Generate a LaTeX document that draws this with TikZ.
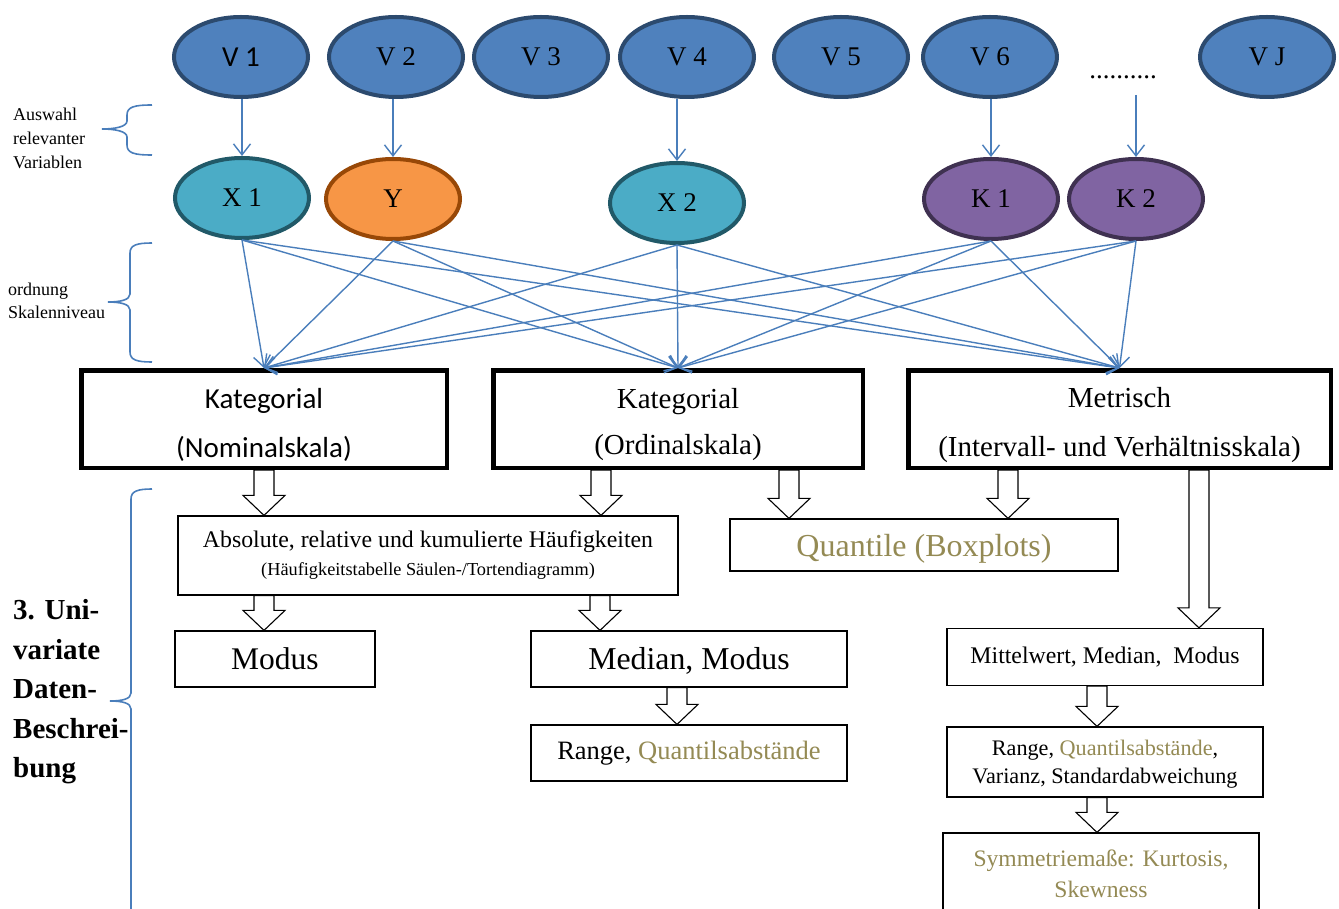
\documentclass[tikz,border=0pt]{standalone}
\usepackage{fontspec}
\setmainfont{Liberation Serif}
\newfontfamily\calfont{Carlito}
\usetikzlibrary{arrows.meta,shapes.geometric,calc}
\pgfdeclarelayer{bg}
\pgfsetlayers{bg,main}
\definecolor{vfill}{HTML}{4F81BD}
\definecolor{vline}{HTML}{2C4A6E}
\definecolor{xfill}{HTML}{4BACC6}
\definecolor{xline}{HTML}{215968}
\definecolor{yfill}{HTML}{F79646}
\definecolor{yline}{HTML}{984807}
\definecolor{kfill}{HTML}{8064A2}
\definecolor{kline}{HTML}{3F3151}
\definecolor{conncol}{HTML}{4A7EBB}
\definecolor{olivetxt}{HTML}{948A54}
\tikzset{
  ell/.style={ellipse, line width=4pt, minimum width=134pt, minimum height=80pt, inner sep=0pt, font=\fontsize{27}{32}\selectfont},
  vell/.style={ell, draw=vline, fill=vfill},
  xell/.style={ell, draw=xline, fill=xfill},
  yell/.style={ell, draw=yline, fill=yfill},
  kell/.style={ell, draw=kline, fill=kfill},
  mainbox/.style={draw=black, fill=white, line width=4.5pt, align=center, inner sep=0pt},
  thinbox/.style={draw=black, fill=white, line width=1.2pt, align=center, inner sep=0pt},
  conn/.style={draw=conncol, line width=1.4pt, -{Straight Barb[length=11pt,width=17pt]}},
  brace/.style={draw=conncol, line width=1.6pt},
  barr/.style={draw=black, fill=white, line width=1.1pt, line join=miter},
  lbl/.style={align=left, inner sep=0pt, anchor=west}
}
\newcommand{\blockarr}[3]{%
  \path (#1,0 |- #2.south) coordinate (bt) (#1,0 |- #3.north) coordinate (bb);
  \filldraw[barr] let \p1=(bt), \p2=(bb) in
    ({\x1-10pt},\y1) -- ({\x1-10pt},{\y2+20pt}) -- ({\x1-21pt},{\y2+20pt}) -- (\x1,\y2)
    -- ({\x1+21pt},{\y2+20pt}) -- ({\x1+10pt},{\y2+20pt}) -- ({\x1+10pt},\y1) -- cycle;}
\newcommand{\mybrace}[6]{%
  \draw[brace] (#1,#4) .. controls ({#2+7},#4) and (#2,{#4+2}) .. (#2,{#4+10})
    -- (#2,{#5-8}) .. controls (#2,{#5-2}) and ({#3+12},#5) .. (#3,#5)
    .. controls ({#3+12},#5) and (#2,{#5+2}) .. (#2,{#5+8})
    -- (#2,{#6-10}) .. controls (#2,{#6-2}) and ({#2+7},#6) .. (#1,#6);}
\newcommand{\topstrut}{\rule{0pt}{32pt}}
\newcommand{\lowertxt}[2]{\raisebox{-#1}[\height][\depth]{#2}}
\begin{document}
\begin{tikzpicture}[x=1pt,y=-1pt]
\useasboundingbox (0,0) rectangle (1339,909);
\clip (0,0) rectangle (1339,909);
% top row
\node[vell, font=\calfont\fontsize{29}{34}\selectfont] (V1) at (241,57) {V 1};
\node[vell] (V2) at (396,57) {V 2};
\node[vell] (V3) at (541,57) {V 3};
\node[vell] (V4) at (687,57) {V 4};
\node[vell] (V5) at (841,57) {V 5};
\node[vell] (V6) at (990,57) {V 6};
\node[vell] (VJ) at (1267,57) {V J};
\node[inner sep=0pt, font=\fontsize{27}{32}\selectfont] (dots) at (1123,77) {..........};
\coordinate (dotsend) at ($(1136,0 |- dots.south)+(0,16)$);
% second row
\node[xell] (X1) at (242,198) {X 1};
\node[yell] (Y) at (393,199) {Y};
\node[xell] (X2) at (677,203) {X 2};
\node[kell] (K1) at (991,199) {K 1};
\node[kell] (K2) at (1136,199) {K 2};
% main boxes
\node[mainbox, minimum width=365.5pt, minimum height=97.5pt, font=\calfont\fontsize{29}{49}\selectfont] (A) at (264,419) {\topstrut Kategorial\\(Nominalskala)};
\node[mainbox, minimum width=369.5pt, minimum height=97.5pt, font=\fontsize{29}{46}\selectfont] (B) at (678,419) {\topstrut Kategorial\\(Ordinalskala)};
\node[mainbox, minimum width=422.5pt, minimum height=97.5pt, font=\fontsize{29}{49}\selectfont] (C) at (1119.5,419) {\topstrut Metrisch\\(Intervall- und Verhältnisskala)};
% lower boxes
\node[thinbox, minimum width=500pt, minimum height=79pt, font=\fontsize{23.8}{28}\selectfont] (Abs) at (428,555.5)
  {Absolute, relative und kumulierte Häufigkeiten\\{\fontsize{18.3}{20}\selectfont (Häufigkeitstabelle Säulen-/Tortendiagramm)}};
\node[thinbox, minimum width=388pt, minimum height=52pt, font=\fontsize{32}{36}\selectfont, text=olivetxt] (Quan) at (924,545) {\lowertxt{4pt}{Quantile (Boxplots)}};
\node[thinbox, minimum width=200pt, minimum height=56pt, font=\fontsize{31.5}{36}\selectfont] (Mod) at (275,659) {Modus};
\node[thinbox, minimum width=316pt, minimum height=56pt, font=\fontsize{31.8}{36}\selectfont] (MedMod) at (689,659) {\lowertxt{2pt}{Median, Modus}};
\node[thinbox, minimum width=316pt, minimum height=56pt, font=\fontsize{26.5}{31}\selectfont] (Rng) at (689,753) {Range, \textcolor{olivetxt}{Quantilsabstände}};
\node[thinbox, minimum width=316pt, minimum height=57pt, font=\fontsize{23.8}{27}\selectfont] (Mitt) at (1105,657) {Mittelwert, Median,~ Modus};
\node[thinbox, minimum width=316pt, minimum height=70pt, font=\fontsize{22.2}{28}\selectfont] (RngVar) at (1105,762) {\rule{0pt}{20pt}Range, \textcolor{olivetxt}{Quantilsabstände},\\Varianz, Standardabweichung};
\node[thinbox, minimum width=316pt, minimum height=81pt, font=\fontsize{23.6}{31}\selectfont, text=olivetxt] (Sym) at (1101,873.5) {Symmetriemaße: Kurtosis,\\Skewness};
% left labels
\node[lbl, font=\fontsize{18}{24}\selectfont] (sel) at (13,138) {Auswahl\\relevanter\\Variablen};
\node[lbl, font=\fontsize{18}{23}\selectfont] (ord) at (8,301) {ordnung\\Skalenniveau};
\node[lbl, font=\bfseries\fontsize{29}{39.5}\selectfont] (uni) at (13,692) {3. Uni-\\variate\\Daten-\\Beschrei-\\bung};
% braces
\mybrace{152}{127}{102}{105}{129}{155}
\mybrace{152}{130}{108}{243}{302}{362}
\mybrace{152}{131}{110}{489}{701}{940}
% top connectors
\draw[conn] (X1.north |- V1.south) -- (X1.north);
\draw[conn] (Y.north |- V2.south) -- (Y.north);
\draw[conn] (X2.north |- V4.south) -- (X2.north);
\draw[conn] (K1.north |- V6.south) -- (K1.north);
\draw[conn] (dotsend) -- (K2.north);
% scale connectors
\foreach \s in {X1,Y,X2,K1,K2}
  \foreach \t in {A,B,C}
    \draw[conn] (\s.south) -- (\t.north);
% block arrows
\begin{pgfonlayer}{bg}
\blockarr{264}{A}{Abs}
\blockarr{601}{B}{Abs}
\blockarr{789}{B}{Quan}
\blockarr{1008}{C}{Quan}
\blockarr{1199}{C}{Mitt}
\blockarr{264}{Abs}{Mod}
\blockarr{600}{Abs}{MedMod}
\blockarr{677}{MedMod}{Rng}
\blockarr{1097}{Mitt}{RngVar}
\blockarr{1097}{RngVar}{Sym}
\end{pgfonlayer}
\end{tikzpicture}
\end{document}
